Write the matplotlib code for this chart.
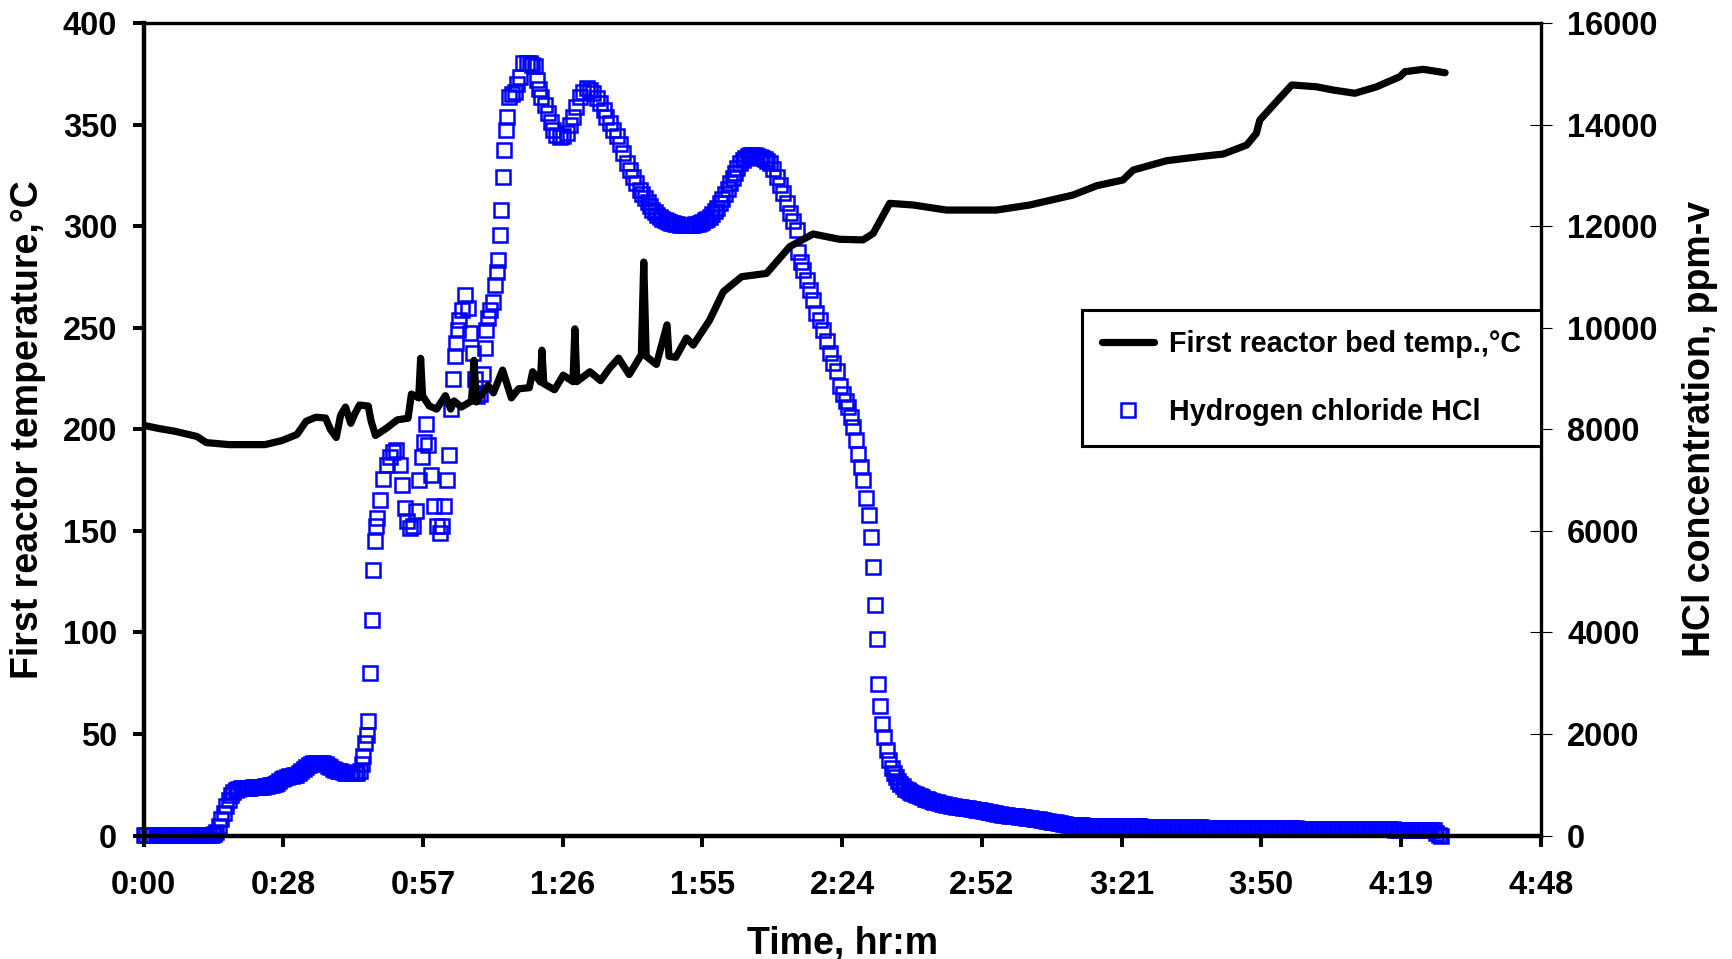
import matplotlib
matplotlib.use("Agg")
import matplotlib.pyplot as plt
import numpy as np

plt.rcParams['font.family'] = ['Liberation Sans', 'DejaVu Sans']
plt.rcParams['font.weight'] = 'bold'
plt.rcParams['axes.labelweight'] = 'bold'

# ---------------- data (time in minutes) ----------------
temp_label = "First reactor bed temp.,\u00b0C"
hcl_label = "Hydrogen chloride HCl"

temp_time = [0.0, 3.0, 6.6, 11.0, 12.9, 17.6, 22.0, 25.0, 28.5, 31.6,
             33.5, 35.5, 37.5, 38.5, 39.7, 40.6, 41.6, 42.7, 43.6, 44.5,
             46.3, 46.9, 47.8, 50.0, 52.3, 54.5, 55.2, 56.7, 57.1, 57.5,
             58.9, 60.4, 62.2, 63.3, 64.0, 65.5, 67.6, 68.1, 68.6, 71.0,
             72.1, 74.0, 75.8, 77.3, 79.5, 80.2, 81.8, 82.1, 82.5, 84.7,
             86.5, 88.5, 88.9, 89.3, 92.0, 94.2, 96.0, 97.9, 100.1, 102.6,
             103.1, 103.6, 105.7, 107.9, 108.3, 109.7, 111.9, 113.3, 116.7, 119.5,
             123.3, 128.4, 133.2, 138.0, 143.5, 148.3, 150.4, 153.8, 158.6, 165.5,
             175.8, 182.7, 191.6, 196.5, 201.9, 204.0, 210.9, 217.7, 222.6, 227.4,
             229.4, 230.1, 232.9, 236.7, 241.8, 245.2, 249.7, 254.2, 259.0, 260.0,
             263.8, 268.3]
temp_c = [202.0, 200.5, 199.0, 196.5, 193.5, 192.5, 192.5, 192.5, 194.5, 197.5,
          204.0, 206.0, 205.6, 200.0, 196.0, 207.0, 211.0, 203.0, 208.0, 212.0,
          211.5, 204.0, 197.0, 200.5, 204.7, 205.5, 217.4, 215.5, 235.0, 216.5,
          211.5, 210.0, 216.6, 210.0, 214.0, 211.0, 214.0, 234.0, 213.5, 221.6,
          218.0, 229.2, 215.5, 220.0, 220.5, 228.4, 223.3, 239.0, 222.5, 219.5,
          226.7, 223.5, 249.5, 223.5, 228.4, 224.0, 230.0, 235.1, 227.0, 236.8,
          282.4, 236.0, 232.0, 251.5, 236.0, 235.5, 245.0, 241.5, 253.9, 267.8,
          275.2, 276.8, 290.0, 296.2, 293.6, 293.3, 296.5, 311.3, 310.5, 308.0,
          308.0, 310.5, 315.4, 320.0, 322.8, 327.7, 332.3, 334.3, 335.6, 340.0,
          345.8, 352.3, 359.7, 369.6, 368.7, 367.1, 365.5, 368.7, 373.7, 376.1,
          377.3, 375.6]

hcl_time_base = [0.0, 0.5, 1.0, 1.5, 2.0, 2.5, 3.0, 3.5, 4.0, 4.5,
                 5.0, 5.5, 6.0, 6.5, 7.0, 7.5, 8.0, 8.5, 9.0, 9.5,
                 10.0, 10.5, 11.0, 11.5, 12.0, 12.5, 13.0, 13.5, 14.0, 14.5,
                 15.0]
hcl_ppm_base = [10, 10, 10, 10, 10, 10, 10, 10, 10, 10,
                10, 10, 10, 10, 10, 10, 10, 10, 10, 10,
                10, 10, 10, 10, 10, 10, 10, 10, 20, 40,
                80]

hcl_time_rise = [15.5, 16.0, 16.5, 17.0, 17.5, 18.0, 18.5, 19.0, 19.5, 20.0,
                 20.5, 21.0, 21.5, 22.0, 22.5, 23.0, 23.5, 24.0, 24.5, 25.0,
                 25.5, 26.0, 26.5, 27.0, 27.5, 28.0, 28.5, 29.0, 29.5, 30.0,
                 30.5, 31.0, 31.5, 32.0, 32.5, 33.0, 33.5, 34.0, 34.5, 35.0,
                 35.5, 36.0, 36.5, 37.0, 37.5, 38.0, 38.5, 39.0, 39.5, 40.0,
                 40.5, 41.0, 41.5, 42.0, 42.5, 43.0, 43.5, 44.0, 44.5, 45.0]
hcl_ppm_rise = [180, 320, 450, 580, 710, 800, 865, 900, 920, 930,
                935, 940, 942, 945, 948, 950, 955, 960, 965, 975,
                982, 990, 1000, 1020, 1045, 1075, 1110, 1140, 1160, 1170,
                1180, 1190, 1200, 1240, 1280, 1320, 1360, 1390, 1410, 1420,
                1428, 1430, 1428, 1420, 1400, 1380, 1350, 1320, 1300, 1280,
                1265, 1250, 1240, 1230, 1227, 1225, 1230, 1240, 1270, 1400]

hcl_time_peak = [45.3, 45.6, 46.0, 46.3, 46.7, 47.0, 47.3, 47.6, 47.9, 48.2,
                 48.7, 49.4, 50.2, 50.8, 51.5, 52.1, 52.8, 53.3, 53.8, 54.3,
                 54.9, 55.5, 56.2, 56.8, 57.3, 57.8, 58.2, 58.7, 59.2, 59.8,
                 60.4, 61.0, 61.6, 62.0, 62.5, 62.9, 63.3, 63.7, 64.1, 64.4,
                 64.8, 65.1, 65.6, 66.2, 66.8, 67.3, 67.8, 68.3, 68.8, 69.3,
                 69.9, 70.3, 70.6, 71.0, 71.5, 72.0, 72.5, 72.8, 73.1, 73.4,
                 73.6, 74.0, 74.3, 74.7, 75.0, 75.4, 76.0, 76.5, 77.0, 77.6,
                 78.3, 79.0, 79.6, 80.1, 80.6, 81.0, 81.5, 82.0, 82.7, 83.4,
                 83.9, 84.4, 85.1, 85.8, 86.5, 87.2, 87.9, 88.6, 89.2, 89.9,
                 90.6, 91.3, 92.0, 92.7, 93.4, 94.1, 94.8, 95.4, 96.1, 96.8,
                 97.5, 98.2, 98.9, 99.6, 100.3, 100.9, 101.6, 102.3, 102.8, 103.3,
                 103.9, 104.4, 104.9, 105.4, 105.9, 106.4, 106.9, 107.4, 107.9, 108.3,
                 108.8, 109.2, 109.6, 110.0, 110.5, 111.0, 111.5, 111.9, 112.4, 112.8,
                 113.3, 113.7, 114.2, 114.7, 115.2, 115.7, 116.2, 116.7, 117.2, 117.7,
                 118.3, 118.8, 119.3, 119.8, 120.4, 120.9, 121.4, 121.9, 122.4, 122.9,
                 123.5, 124.0, 124.5, 125.0, 125.5, 126.0, 126.5, 127.0, 127.5, 128.0,
                 128.5, 129.1, 129.8, 130.5, 131.2, 131.9, 132.6, 133.2, 133.9, 134.6,
                 134.9, 135.5, 136.0, 136.7, 137.4, 138.0, 138.7, 139.4, 140.1, 140.8,
                 141.5, 142.2, 142.9, 143.5, 144.2, 144.8, 145.3, 145.8, 146.3, 146.8,
                 147.3, 147.8, 148.3, 149.0, 149.5, 149.9, 150.3, 150.8, 151.1, 151.4,
                 151.8, 152.3, 152.7, 153.2, 153.7, 154.2, 154.6, 155.0, 155.5]
hcl_ppm_peak = [1560, 1820, 1980, 2260, 3200, 4250, 5240, 5800, 6100, 6260,
                6610, 7030, 7300, 7450, 7550, 7600, 7300, 6900, 6450, 6200,
                6050, 6100, 6400, 7000, 7450, 7750, 8100, 7700, 7100, 6500,
                6100, 5950, 6100, 6500, 7000, 7500, 8400, 9000, 9450, 9700,
                9950, 10150, 10350, 10650, 10400, 9900, 9500, 9000, 8650, 8700,
                9100, 9600, 9950, 10200, 10350, 10500, 10850, 11100, 11340, 11830,
                12320, 12980, 13500, 13900, 14150, 14550, 14600, 14650, 14800, 14950,
                15210, 15220, 15210, 15180, 15150, 14880, 14700, 14550, 14380, 14225,
                14050, 13900, 13800, 13765, 13780, 13830, 13990, 14160, 14350, 14550,
                14650, 14720, 14690, 14620, 14530, 14420, 14290, 14160, 14030, 13900,
                13770, 13630, 13440, 13240, 13100, 12980, 12850, 12715, 12630, 12550,
                12470, 12390, 12330, 12280, 12230, 12190, 12150, 12120, 12100, 12080,
                12070, 12060, 12050, 12040, 12035, 12030, 12028, 12026, 12028, 12030,
                12035, 12040, 12050, 12060, 12090, 12120, 12150, 12190, 12240, 12300,
                12370, 12450, 12540, 12640, 12740, 12850, 12950, 13050, 13150, 13240,
                13300, 13350, 13380, 13400, 13410, 13410, 13390, 13370, 13350, 13320,
                13280, 13240, 13120, 12980, 12820, 12650, 12450, 12260, 12100, 11930,
                11500, 11300, 11140, 10950, 10750, 10550, 10300, 10150, 9950, 9750,
                9500, 9300, 9150, 8850, 8700, 8550, 8450, 8250, 8050, 7800,
                7520, 7260, 7000, 6645, 6310, 5890, 5280, 4550, 3880, 2980,
                2560, 2200, 1940, 1680, 1480, 1325, 1230, 1150, 1080]

hcl_time_tail = [156.0, 156.5, 157.0, 157.5, 158.0, 158.5, 159.0, 159.5, 160.0, 160.5,
                 161.0, 161.5, 162.0, 162.5, 163.0, 163.5, 164.0, 164.5, 165.0, 165.5,
                 166.0, 166.5, 167.0, 167.5, 168.0, 168.5, 169.0, 169.5, 170.0, 170.5,
                 171.0, 171.5, 172.0, 172.5, 173.0, 173.5, 174.0, 174.5, 175.0, 175.5,
                 176.0, 176.5, 177.0, 177.5, 178.0, 178.5, 179.0, 179.5, 180.0, 180.5,
                 181.0, 181.5, 182.0, 182.5, 183.0, 183.5, 184.0, 184.5, 185.0, 185.5,
                 186.0, 186.5, 187.0, 187.5, 188.0, 188.5, 189.0, 189.5, 190.0, 190.5,
                 191.0, 191.5, 192.0, 192.5, 193.0, 193.5, 194.0, 194.5, 195.0, 195.5,
                 196.0, 196.5, 197.0, 197.5, 198.0, 198.5, 199.0, 199.5, 200.0, 200.5,
                 201.0, 201.5, 202.0, 202.5, 203.0, 203.5, 204.0, 204.5, 205.0, 205.5,
                 206.0, 206.5, 207.0, 207.5, 208.0, 208.5, 209.0, 209.5, 210.0, 210.5,
                 211.0, 211.5, 212.0, 212.5, 213.0, 213.5, 214.0, 214.5, 215.0, 215.5,
                 216.0, 216.5, 217.0, 217.5, 218.0, 218.5, 219.0, 219.5, 220.0, 220.5,
                 221.0, 221.5, 222.0, 222.5, 223.0, 223.5, 224.0, 224.5, 225.0, 225.5,
                 226.0, 226.5, 227.0, 227.5, 228.0, 228.5, 229.0, 229.5, 230.0, 230.5,
                 231.0, 231.5, 232.0, 232.5, 233.0, 233.5, 234.0, 234.5, 235.0, 235.5,
                 236.0, 236.5, 237.0, 237.5, 238.0, 238.5, 239.0, 239.5, 240.0, 240.5,
                 241.0, 241.5, 242.0, 242.5, 243.0, 243.5, 244.0, 244.5, 245.0, 245.5,
                 246.0, 246.5, 247.0, 247.5, 248.0, 248.5, 249.0, 249.5, 250.0, 250.5,
                 251.0, 251.5, 252.0, 252.5, 253.0, 253.5, 254.0, 254.5, 255.0, 255.5,
                 256.0, 256.5, 257.0, 257.5, 258.0, 258.5, 259.0, 259.5, 260.0, 260.5,
                 261.0, 261.5, 262.0, 262.5, 263.0, 263.5, 264.0, 264.5, 265.0, 265.5,
                 266.0, 266.5, 267.0, 267.5]
hcl_ppm_tail = [1010, 975, 920, 890, 850, 830, 810, 795, 775, 760,
                730, 715, 700, 685, 670, 655, 640, 628, 618, 608,
                598, 590, 580, 572, 565, 557, 550, 543, 535, 528,
                520, 512, 505, 497, 490, 480, 470, 460, 450, 440,
                430, 420, 410, 405, 400, 395, 390, 385, 380, 375,
                370, 362, 355, 348, 340, 332, 325, 318, 310, 300,
                292, 284, 275, 266, 258, 249, 240, 232, 225, 218,
                210, 208, 205, 203, 200, 199, 198, 197, 195, 195,
                194, 194, 193, 192, 191, 190, 189, 188, 187, 186,
                186, 185, 184, 183, 183, 182, 181, 180, 180, 179,
                178, 177, 177, 176, 175, 174, 174, 173, 172, 171,
                171, 170, 169, 168, 168, 167, 166, 165, 165, 164,
                163, 162, 162, 161, 160, 159, 158, 158, 157, 157,
                156, 156, 155, 155, 154, 154, 153, 153, 152, 152,
                151, 151, 150, 150, 149, 149, 148, 148, 147, 147,
                146, 146, 145, 145, 144, 144, 143, 143, 142, 142,
                141, 141, 140, 140, 139, 139, 138, 138, 137, 137,
                136, 136, 135, 135, 134, 134, 133, 133, 132, 132,
                131, 131, 130, 130, 129, 129, 128, 128, 127, 127,
                126, 126, 125, 125, 124, 124, 123, 123, 122, 122,
                121, 121, 120, 120, 119, 119, 118, 118, 117, 117,
                116, 116, 115, 115, 114, 114, 113, 113, 112, 110,
                108, 60, 15, 0]

x_tick_labels = ["0:00", "0:28", "0:57", "1:26", "1:55", "2:24",
                 "2:52", "3:21", "3:50", "4:19", "4:48"]

hcl_time = hcl_time_base + hcl_time_rise + hcl_time_peak + hcl_time_tail
hcl_ppm = hcl_ppm_base + hcl_ppm_rise + hcl_ppm_peak + hcl_ppm_tail

# ---------------- figure ----------------
fig = plt.figure(figsize=(17.33, 9.59), dpi=100)
ax = fig.add_axes([0.0829, 0.1287, 0.8061, 0.8471])
ax2 = ax.twinx()
ax.set_zorder(ax2.get_zorder() + 1)
ax.patch.set_visible(False)

hl, = ax2.plot(hcl_time, hcl_ppm, linestyle='none', marker='s', markersize=10,
               markerfacecolor='none', markeredgecolor='#0000FF',
               markeredgewidth=1.8, clip_on=False, label=hcl_label)
tl, = ax.plot(temp_time, temp_c, color='black', linewidth=5.2,
              solid_joinstyle='round', solid_capstyle='round', label=temp_label)

ax.set_xlim(0, 288)
ax.set_ylim(0, 400)
ax2.set_ylim(0, 16000)
ax.set_xticks(np.arange(len(x_tick_labels)) * 28.8, labels=x_tick_labels)
ax.set_yticks(np.arange(0, 401, 50))
ax2.set_yticks(np.arange(0, 16001, 2000))

# spines
for sp in ['left', 'bottom']:
    ax.spines[sp].set_linewidth(3.2)
ax.spines['top'].set_linewidth(2.4)
ax.spines['right'].set_visible(False)
for sp in ['left', 'bottom', 'top']:
    ax2.spines[sp].set_visible(False)
ax2.spines['right'].set_linewidth(2.4)

ax.tick_params(axis='y', direction='out', length=8, width=2.9, pad=11,
               labelsize=23.5, right=False)
ax.tick_params(axis='x', direction='out', length=8, width=2.9, pad=17,
               labelsize=23.5, top=False)
ax2.tick_params(axis='y', direction='inout', length=16, width=0.8, pad=11,
                labelsize=23.5)

ax.set_xlabel("Time, hr:m", fontsize=27, fontweight='bold')
ax.xaxis.set_label_coords(0.5, -0.111)
ax.set_ylabel("First reactor temperature,\u00b0C", fontsize=27, fontweight='bold')
ax.yaxis.set_label_coords(-0.07, 0.5)
ax2.set_ylabel("HCl concentration, ppm-v", fontsize=27, fontweight='bold',
               rotation=90)
ax2.yaxis.set_label_coords(1.101, 0.5)

leg = ax.legend([tl, hl], [temp_label, hcl_label], loc='upper right',
                bbox_to_anchor=(1.0, 0.647), bbox_transform=ax.transAxes,
                borderaxespad=0, fontsize=20.7, frameon=True, fancybox=False,
                edgecolor='black', framealpha=1, borderpad=0.7,
                labelspacing=1.4, handlelength=1.8, handletextpad=0.5,
                numpoints=1)
leg.get_frame().set_linewidth(2.2)
for t in leg.get_texts():
    t.set_fontweight('bold')

fig.savefig("out.png", dpi=100)
